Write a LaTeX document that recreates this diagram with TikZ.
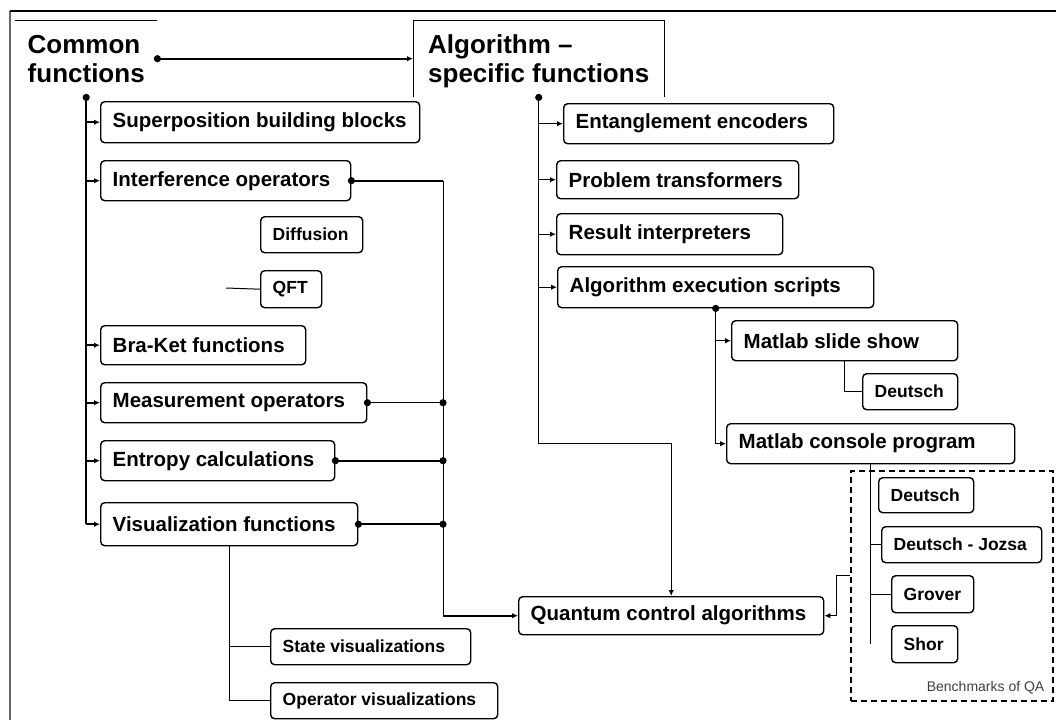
\documentclass[tikz,border=0pt]{standalone}
\usepackage{fontspec}
\setmainfont{Liberation Sans}
\usetikzlibrary{arrows.meta}

% \mkbox{style}{name}{left}{top}{right}{bottom}{text}: rounded box, text set flush left
\newcommand\mkbox[7]{%
  \node[box,#1,anchor=north west,minimum height={#6-#4}] (#2) at (#3,#4)
    {\makebox[\dimexpr#5pt-#3pt-24pt\relax][l]{#7}};}
\newcommand\jdot[1]{\fill (#1) circle (3.6pt);}

\tikzset{
  box/.style={draw, line width=1.4pt, rounded corners=4pt, inner xsep=12pt, inner ysep=0pt,
    font=\fontsize{20.5}{24}\selectfont\bfseries},
  minor/.style={font=\fontsize{17.5}{20}\selectfont\bfseries},
  title/.style={inner sep=0pt, align=left, text depth=0pt,
    font=\fontsize{26}{29}\selectfont\bfseries},
  wire/.style={line width=1pt},
  mid wire/.style={line width=1.4pt},
  bold wire/.style={line width=1.9pt},
  tip/.style={-{Latex[length=6pt,width=5.5pt]}},
}

\begin{document}
\begin{tikzpicture}[x=1pt,y=-1pt]
\useasboundingbox (0,0) rectangle (1056,720);
\fill[white] (0,0) rectangle (1056,720);

% outer frame
\draw[line width=2pt, black!60] (10,720) -- (10,11);
\draw[line width=1.6pt] (10,11) -- (1056,11);

% group headings
\node[title, anchor=north west, minimum width=142, minimum height=77] (cf) at (15,20) {Common\\functions};
\node[title, anchor=north west, minimum width=251, minimum height=77] (alg) at (413,20) {Algorithm --\\specific functions};
\draw[wire] (cf.north west) -- (cf.north east);
\draw[wire] (alg.south west) |- (alg.north east) -- (alg.south east);

% common functions
\mkbox{}{sup}{100}{101}{419}{142}{Superposition building blocks}
\mkbox{}{intf}{100}{160}{350}{200}{Interference operators}
\mkbox{minor}{diff}{260}{216}{362}{252}{Diffusion}
\mkbox{minor}{qft}{260}{270}{321}{307}{QFT}
\mkbox{}{bk}{100}{325}{305}{364}{Bra-Ket functions}
\mkbox{}{meas}{100}{382}{366}{422}{Measurement operators}
\mkbox{}{ent}{100}{440}{334}{480}{Entropy calculations}
\mkbox{}{vis}{100}{502}{357}{545}{Visualization functions}
\mkbox{minor}{sv}{270}{628}{470}{664}{State visualizations}
\mkbox{minor}{ov}{270}{682}{497}{718}{Operator visualizations}

% algorithm-specific functions
\mkbox{}{ent2}{563}{103}{833}{143}{Entanglement encoders}
\mkbox{}{pt}{556}{160}{798}{198}{Problem transformers}
\mkbox{}{ri}{556}{213}{782}{254}{Result interpreters}
\mkbox{}{aes}{557}{266}{873}{307}{Algorithm execution scripts}
\mkbox{}{mss}{731}{320}{957}{360}{Matlab slide show}
\mkbox{minor}{d1}{862}{373}{957}{409}{Deutsch}
\mkbox{}{mcp}{726}{423}{1014}{463}{Matlab console program}
\mkbox{}{qca}{518}{596}{823}{634}{Quantum control algorithms}

% benchmark group
\node[draw, dashed, dash pattern=on 6pt off 4pt, line width=1.5pt, anchor=north west,
      minimum width=202, minimum height=230, inner sep=0pt] (bench) at (850,470) {};
\node[anchor=base east, inner sep=0pt, text=black!75, font=\fontsize{14}{16}\selectfont]
  (benchLbl) at ([shift={(-9,-10)}]bench.south east) {Benchmarks of QA};
\mkbox{minor}{d2}{878}{477}{973}{512}{Deutsch}
\mkbox{minor}{dj}{881}{526}{1041}{562}{Deutsch - Jozsa}
\mkbox{minor}{gr}{891}{575}{973}{612}{Grover}
\mkbox{minor}{sh}{891}{625}{957}{662}{Shor}

% heading link
\draw[bold wire, tip] (cf.east) -- (cf.east -| alg.west);
\jdot{cf.east}

% left spine
\draw[bold wire] (cf.south) -- (cf.south |- vis.west);
\foreach \n in {sup,intf,bk,meas,ent,vis}{
  \draw[bold wire, tip] (cf.south |- \n.west) -- (\n.west);}
\jdot{cf.south}

% collecting bus into the control algorithms
\coordinate (bus) at (443,0);
\draw[bold wire] (intf.east) -- (intf.east -| bus);
\draw[wire] (intf.east -| bus) -- (qca.west -| bus);
\draw[bold wire, tip] (qca.west -| bus) -- (qca.west);
\draw[wire] (meas.east) -- (meas.east -| bus);
\draw[bold wire] (ent.east) -- (ent.east -| bus);
\draw[bold wire] (vis.east) -- (vis.east -| bus);
\foreach \n in {intf,meas,ent,vis}{\jdot{\n.east}}
\foreach \n in {meas,ent,vis}{\jdot{\n.east -| bus}}

% visualization subtree
\coordinate (vt) at (229,0);
\draw[wire] (vis.south -| vt) |- (ov.west);
\draw[wire] (sv.west -| vt) -- (sv.west);

% QFT stub
\coordinate (qftStub) at (226,288);
\draw[wire] (qftStub) -- (qft.west);

% right spine
\draw[mid wire, tip] (alg.south) -- (alg.south |- mcp.west) -| (qca.north);
\foreach \n in {ent2,pt,ri,aes}{
  \draw[mid wire, tip] (alg.south |- \n.west) -- (\n.west);}
\jdot{alg.south}

% execution scripts subtree
\draw[wire] (aes.south) -- (aes.south |- mcp.west);
\foreach \n in {mss,mcp}{
  \draw[wire, tip] (aes.south |- \n.west) -- (\n.west);}
\jdot{aes.south}
\draw[wire] (mss.south) |- (d1.west);

% console program list
\draw[wire] (mcp.south) -- (mcp.south |- sh.west);
\foreach \n in {dj,gr}{
  \draw[wire] (mcp.south |- \n.west) -- (\n.west);}

% benchmarks feed the control algorithms
\draw[wire, tip] (bench.west |- gr.north) -- ++(-14,0) |- (qca.east);
\end{tikzpicture}
\end{document}
